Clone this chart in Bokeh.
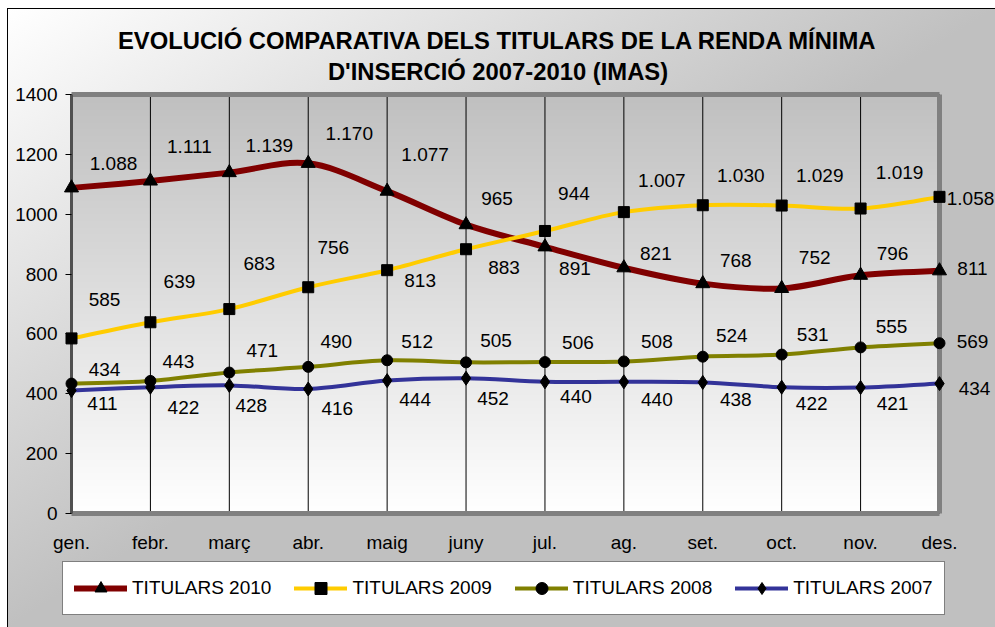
import numpy as np
from bokeh.plotting import figure
from bokeh.models import (ColumnDataSource, Range1d, FixedTicker, Legend, LegendItem,
                          LinearAxis)
from bokeh.core.properties import value
from bokeh.embed import file_html
from bokeh.resources import INLINE

# ---------------- data ----------------
MONTHS = ["gen.", "febr.", "març", "abr.", "maig", "juny", "jul.", "ag.", "set.", "oct.", "nov.", "des."]
T2010 = [1088, 1111, 1139, 1170, 1077, 965, 891, 821, 768, 752, 796, 811]
T2009 = [585, 639, 683, 756, 813, 883, 944, 1007, 1030, 1029, 1019, 1058]
T2008 = [434, 443, 471, 490, 512, 505, 506, 508, 524, 531, 555, 569]
T2007 = [411, 422, 428, 416, 444, 452, 440, 440, 438, 422, 421, 434]
Y_TICKS = [0, 200, 400, 600, 800, 1000, 1200, 1400]
NAMES = ["TITULARS 2010", "TITULARS 2009", "TITULARS 2008", "TITULARS 2007"]
TITLE_1 = "EVOLUCIÓ COMPARATIVA DELS TITULARS DE LA RENDA MÍNIMA"
TITLE_2 = "D'INSERCIÓ 2007-2010 (IMAS)"

# ---------------- styles / layout ----------------
COLORS = ["#800000", "#FFCC00", "#808000", "#333399"]
WIDTHS = [6, 4, 4, 4]
MARKERS = ["triangle", "square", "circle", "diamond"]
MSIZES = [14, 11, 11, 14]
# data-label offsets in screen pixels (dx right, dy down)
DX = [
    [42, 39, 40, 41, 38, 31, 30, 32, 33, 33, 32, 33],
    [33, 29, 30, 25, 33, 38, 29, 38, 38, 38, 39, 31],
    [33, 28, 33, 28, 30, 30, 33, 33, 29, 31, 31, 33],
    [31, 33, 22, 29, 28, 27, 31, 33, 33, 30, 32, 35],
]
DY = [
    [-24, -34, -27, -30, -37, -26, 22, -14, -23, -31, -22, -2],
    [-39, -41, -46, -40, 10, 18, -37, -32, -30, -30, -36, 2],
    [-14, -19, -22, -25, -19, -22, -20, -20, -21, -20, -21, -2],
    [13, 20, 20, 20, 19, 20, 15, 18, 17, 16, 16, 5],
]

FONT = "Liberation Sans"
W, H = 995, 627
# plot-area box in page pixels
PL, PR, PT, PB = 71, 939, 94, 513

x = list(range(len(MONTHS)))
XMAX = len(MONTHS) - 1
YMAX = Y_TICKS[-1]
sx = (PR - PL) / XMAX          # px per x unit
sy = (PB - PT) / YMAX          # px per y unit
x_range = Range1d(-PL / sx, (W - PL) / sx)
y_range = Range1d(-(H - PB) / sy, PB / sy)

p = figure(width=W, height=H, output_backend="svg", toolbar_location=None,
           x_range=x_range, y_range=y_range,
           min_border_left=0, min_border_right=0, min_border_top=0, min_border_bottom=0)
p.border_fill_alpha = 0
p.background_fill_alpha = 0
p.outline_line_color = None
p.styles = {
    "background": ("linear-gradient(#000,#000) 7px 8px / 1px 100% no-repeat, "
                   "linear-gradient(#000,#000) 7px 8px / 100% 1px no-repeat, "
                   "linear-gradient(to bottom right, #ffffff 0%, #c0c0c0 50%, #c0c0c0 100%) "
                   "8px 9px / calc(100% - 8px) calc(100% - 9px) no-repeat, #ffffff"),
}

# plot-area vertical gradient (grey at top -> white at bottom)
n = 256
g = np.linspace(255, 192, n).astype(np.uint8)
img = np.zeros((n, 1), dtype=np.uint32)
view = img.view(dtype=np.uint8).reshape((n, 1, 4))
view[:, 0, 0] = g
view[:, 0, 1] = g
view[:, 0, 2] = g
view[:, 0, 3] = 255
p.image_rgba(image=[img], x=0, y=0, dw=XMAX, dh=YMAX, level="image")

# vertical grid lines at every month
p.xgrid.visible = False
p.ygrid.visible = False
p.segment(x0=x, y0=[Y_TICKS[0]] * len(x), x1=x, y1=[YMAX] * len(x),
          line_color="#000000", line_width=1, level="underlay")

# axes drawn at fixed locations on the plot-area edges
p.xaxis.fixed_location = 0
p.xaxis.bounds = (0, XMAX)
p.xaxis.ticker = FixedTicker(ticks=x)
p.xaxis.major_label_overrides = {i: m for i, m in enumerate(MONTHS)}
p.xaxis.axis_line_color = "#808080"
p.xaxis.axis_line_width = 5
p.xaxis.major_tick_out = 0
p.xaxis.major_tick_in = 0
p.xaxis.minor_tick_out = 0
p.xaxis.minor_tick_in = 0
p.xaxis.major_label_standoff = 18
p.xaxis.major_label_text_font = FONT
p.xaxis.major_label_text_font_size = "19px"
p.xaxis.major_label_text_color = "#000000"

p.yaxis.fixed_location = 0
p.yaxis.bounds = (0, YMAX)
p.yaxis.ticker = FixedTicker(ticks=Y_TICKS)
p.yaxis.axis_line_color = "#505050"
p.yaxis.axis_line_width = 3
p.yaxis.major_tick_out = 6
p.yaxis.major_tick_in = 0
p.yaxis.minor_tick_out = 0
p.yaxis.minor_tick_in = 0
p.yaxis.major_tick_line_color = "#000000"
p.yaxis.major_label_standoff = 8
p.yaxis.major_label_text_font = FONT
p.yaxis.major_label_text_font_size = "19px"
p.yaxis.major_label_text_color = "#000000"

top_ax = LinearAxis(fixed_location=YMAX, bounds=(0, XMAX), ticker=FixedTicker(ticks=[]),
                    axis_line_color="#808080", axis_line_width=5,
                    major_tick_out=0, major_tick_in=0, minor_tick_out=0, minor_tick_in=0,
                    major_label_text_font_size="0px")
p.add_layout(top_ax, "above")
right_ax = LinearAxis(fixed_location=XMAX, bounds=(0, YMAX), ticker=FixedTicker(ticks=[]),
                      axis_line_color="#808080", axis_line_width=5,
                      major_tick_out=0, major_tick_in=0, minor_tick_out=0, minor_tick_in=0,
                      major_label_text_font_size="0px")
p.add_layout(right_ax, "right")

# series
series = [T2010, T2009, T2008, T2007]
items = []
for k, vals in enumerate(series):
    n_pts = len(vals)
    # smoothed segments drawn as cubic Beziers through the data points
    x0, y0, x1, y1, cx0, cy0, cx1, cy1 = [], [], [], [], [], [], [], []
    for i in range(n_pts - 1):
        im1 = max(i - 1, 0)
        ip2 = min(i + 2, n_pts - 1)
        x0.append(x[i]); y0.append(vals[i])
        x1.append(x[i + 1]); y1.append(vals[i + 1])
        cx0.append(x[i] + (x[i + 1] - x[im1]) / 6.0)
        cy0.append(vals[i] + (vals[i + 1] - vals[im1]) / 6.0)
        cx1.append(x[i + 1] - (x[ip2] - x[i]) / 6.0)
        cy1.append(vals[i + 1] - (vals[ip2] - vals[i]) / 6.0)
    bsrc = ColumnDataSource(dict(x0=x0, y0=y0, x1=x1, y1=y1, cx0=cx0, cy0=cy0, cx1=cx1, cy1=cy1))
    lr = p.bezier(x0="x0", y0="y0", x1="x1", y1="y1", cx0="cx0", cy0="cy0", cx1="cx1", cy1="cy1",
                  source=bsrc, line_color=COLORS[k], line_width=WIDTHS[k], line_cap="round")
    msrc = ColumnDataSource(dict(x=x, y=vals))
    mr = p.scatter(x="x", y="y", source=msrc, marker=MARKERS[k], size=MSIZES[k],
                   fill_color="#000000", line_color="#000000", level="overlay")
    items.append(LegendItem(label=NAMES[k], renderers=[lr, mr]))

# data labels
for k, vals in enumerate(series):
    labels = [f"{v:,}".replace(",", ".") for v in vals]
    tsrc = ColumnDataSource(dict(x=x, y=vals, t=labels, dx=DX[k], dy=DY[k]))
    p.text(x="x", y="y", text="t", x_offset="dx", y_offset="dy", source=tsrc,
           text_font=value(FONT), text_font_size="19px", text_color="#000000",
           text_align="center", text_baseline="middle", level="overlay")

# title (two centred lines) above the plot area
tx = (W / 2 - PL) / sx
ty = [(PB - base) / sy for base in (40, 71)]
tsrc = ColumnDataSource(dict(x=[tx, tx], y=ty, t=[TITLE_1, TITLE_2]))
p.text(x="x", y="y", text="t", source=tsrc, text_font=value(FONT), text_font_style="bold",
       text_font_size="23.8px", text_color="#000000", text_align="center",
       text_baseline="alphabetic", level="overlay")

legend = Legend(items=items, orientation="horizontal", location=(62, H - 615),
                glyph_width=53, glyph_height=30, label_standoff=5, spacing=23, padding=11,
                margin=0, border_line_color="#000000", border_line_width=1,
                background_fill_color="#ffffff", background_fill_alpha=1,
                label_text_font=FONT, label_text_font_size="19px", label_text_color="#000000")
p.add_layout(legend, "center")

open("out.html", "w").write(file_html(p, INLINE))
